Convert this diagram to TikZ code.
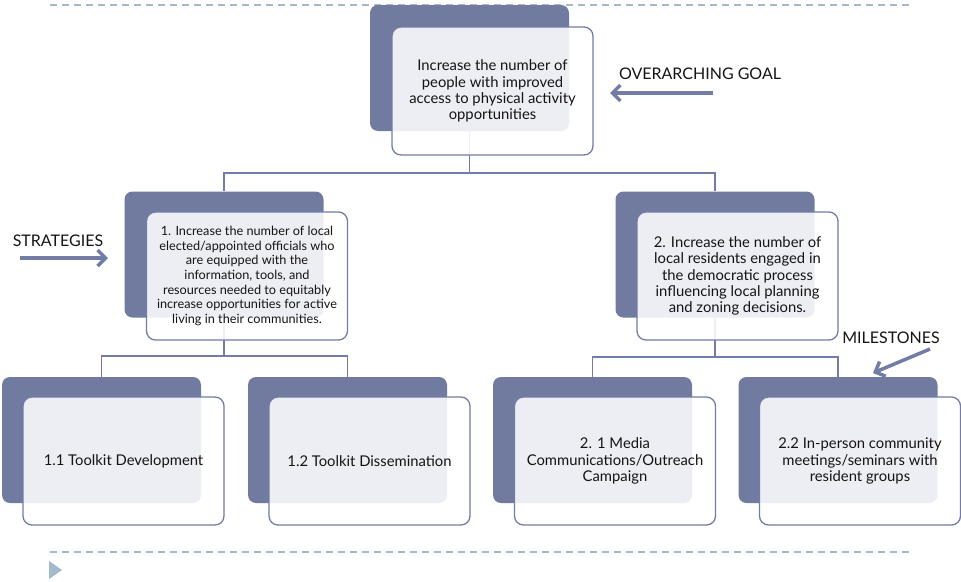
\documentclass[tikz,border=0pt]{standalone}
\usepackage{fontspec}
\setmainfont{Lato}
\usetikzlibrary{arrows.meta}
\definecolor{darkfill}{RGB}{113,123,160}
\definecolor{edge}{RGB}{114,124,166}
\definecolor{dashc}{RGB}{163,185,205}
\definecolor{txt}{RGB}{20,20,20}
\pgfdeclarelayer{bg}
\pgfsetlayers{bg,main}
\tikzset{
  darkbox/.style={fill=darkfill, draw=none, rounded corners=8pt, minimum width=199pt, minimum height=126pt, inner sep=0pt},
  frontbox/.style={fill=white, fill opacity=0.88, text opacity=1, draw=edge, line width=1.3pt, rounded corners=9pt, minimum width=201pt, minimum height=128pt, align=center, text=txt, inner sep=2pt},
  link/.style={draw=edge, line width=1.3pt},
  bigarrow/.style={draw=edge, line width=3.5pt, -{Straight Barb[length=8pt, width=16pt]}},
  lab/.style={text=txt, font=\fontsize{16}{19}\selectfont, inner sep=0pt},
  guide/.style={draw=dashc, line width=1.3pt, dash pattern=on 7pt off 5pt},
  bigtext/.style={font=\fontsize{14.8}{16.3}\selectfont},
}
\begin{document}
\begin{tikzpicture}[x=1pt, y=-1pt]
\useasboundingbox (0,0) rectangle (961,581);
% guide lines
\coordinate (t1) at (50,5); \coordinate (t2) at (912,5);
\coordinate (b1) at (50,552); \coordinate (b2) at (912,552);
\draw[guide] (t1) -- (t2);
\draw[guide] (b1) -- (b2);
\fill[dashc] (49,561) -- (62,570) -- (49,579) -- cycle;
% dark boxes
\node[darkbox] (gD) at (469.5,68) {};
\node[darkbox] (s1D) at (224,254.5) {};
\node[darkbox] (s2D) at (715,254.5) {};
\node[darkbox] (m11D) at (101.5,440) {};
\node[darkbox] (m12D) at (347.5,440) {};
\node[darkbox] (m21D) at (592.5,440) {};
\node[darkbox] (m22D) at (838,440) {};
% connectors
\coordinate (j0) at (469.5,173);
\coordinate (j1) at (224,356);
\coordinate (j2) at (715,357);
\begin{pgfonlayer}{bg}
\draw[link] (gD.south) -- (j0) -| (s1D.north);
\draw[link] (j0) -| (s2D.north);
\draw[link] (s1D.south) -- (j1) -| (m11D.north);
\draw[link] (j1) -| (m12D.north);
\draw[link] (s2D.south) -- (j2) -| (m21D.north);
\draw[link] (j2) -| (m22D.north);
\end{pgfonlayer}
% front boxes
\node[frontbox, bigtext] (g) at (492.5,91)
  {Increase the number of\\people with improved\\access to physical activity\\opportunities};
\node[frontbox, font=\fontsize{12.7}{14.7}\selectfont] (s1) at (247,276)
  {1. Increase the number of local\\elected/appointed officials who\\are equipped with the\\information, tools, and\\resources needed to equitably\\increase opportunities for active\\living in their communities.};
\node[frontbox, bigtext] (s2) at (737.5,276)
  {2. Increase the number of\\local residents engaged in\\the democratic process\\influencing local planning\\and zoning decisions.};
\node[frontbox, bigtext] (m11) at (123.5,461) {1.1 Toolkit Development};
\node[frontbox, bigtext] (m12) at (369.5,461) {1.2 Toolkit Dissemination};
\node[frontbox, bigtext] (m21) at (615,461)
  {2. 1 Media\\Communications/Outreach\\Campaign};
\node[frontbox, bigtext] (m22) at (860,461)
  {2.2 In-person community\\meetings/seminars with\\resident groups};
% labels and arrows
\node[lab] (goalL) at (700,74) {OVERARCHING GOAL};
\node[lab] (stratL) at (58,241) {STRATEGIES};
\node[lab] (mileL) at (891,338) {MILESTONES};
\coordinate (ga1) at (713,93); \coordinate (ga2) at (610,93);
\coordinate (sa1) at (20,258); \coordinate (sa2) at (108,258);
\coordinate (ma1) at (930,349); \coordinate (ma2) at (873,373);
\draw[bigarrow] (ga1) -- (ga2);
\draw[bigarrow] (sa1) -- (sa2);
\draw[bigarrow] (ma1) -- (ma2);
\end{tikzpicture}
\end{document}
